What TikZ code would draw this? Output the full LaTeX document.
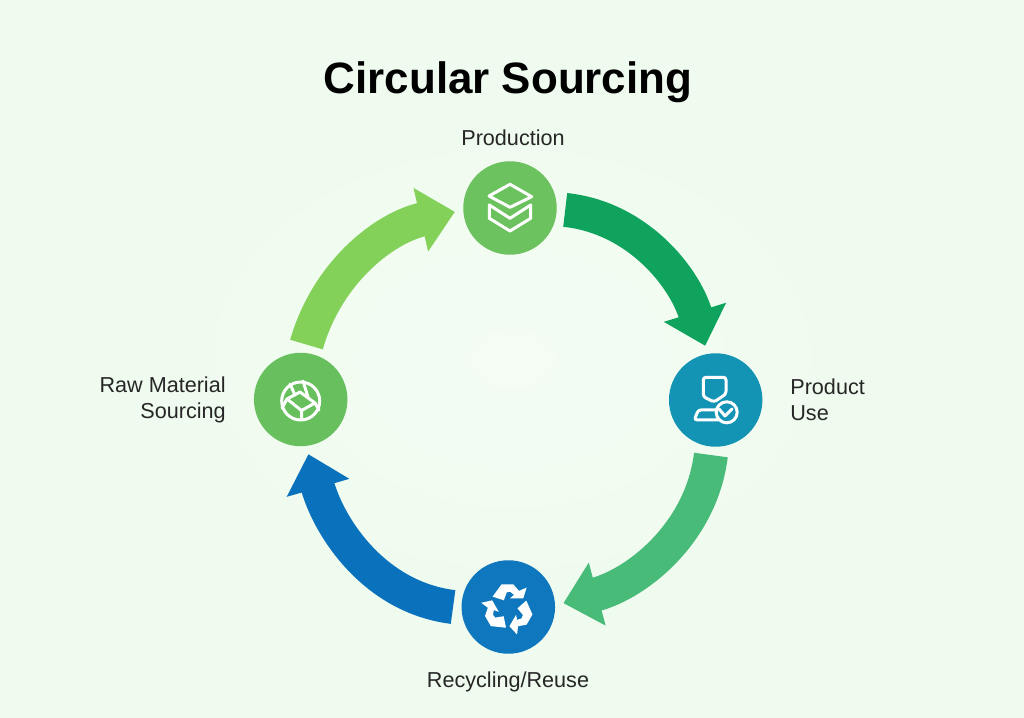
\documentclass[tikz,border=0pt]{standalone}
\usepackage{fontspec}
\setmainfont{Liberation Sans}
\usetikzlibrary{arrows.meta}
\definecolor{bgout}{HTML}{EEFBEE}
\definecolor{bgin}{HTML}{F4FCF3}
\definecolor{cprod}{HTML}{6CC25E}
\definecolor{cuse}{HTML}{1394B5}
\definecolor{crec}{HTML}{0F77BD}
\definecolor{craw}{HTML}{67C05D}
\definecolor{aone}{HTML}{84D15A}
\definecolor{atwo}{HTML}{10A35E}
\definecolor{athree}{HTML}{48BB78}
\definecolor{afour}{HTML}{0A72BC}
\begin{document}
\begin{tikzpicture}[x=0.02cm, y=0.02cm,
	main/.style = {circle, inner sep=0pt, minimum size=1.87cm, outer sep=0.17cm},
	lab/.style = {font=\fontsize{12.3pt}{14.8pt}\selectfont, text=black!85, inner sep=0pt},
	band/.style = {line width=0.68cm, -{Triangle[length=0.7cm, width=1.26cm]}},
	icon/.style = {draw=white, line width=0.06cm, line join=round, line cap=round}]
	\useasboundingbox (0,0) rectangle (1024,717);
	\shade[inner color=bgin, outer color=bgout] (0,0) rectangle (1024,717);
	
	\node[inner sep=0pt, font=\fontsize{25pt}{30pt}\selectfont\bfseries] (title) at (508,635) {Circular Sourcing};
	
	\node[main, fill=cprod] (prod) at (510,509) {};
	\node[main, fill=cuse] (use) at (715.7,317) {};
	\node[main, fill=crec] (rec) at (508.3,110) {};
	\node[main, fill=craw] (raw) at (300.7,317.5) {};
	
	\node[lab] (prodlab) at (513,579) {Production};
	\node[lab, align=left, anchor=west] (uselab) at (790,317) {Product\\Use};
	\node[lab] (reclab) at (508,35) {Recycling/Reuse};
	\node[lab, align=right, anchor=east] (rawlab) at (226,317) {Raw Material\\Sourcing};
	
	\draw[band, aone] (raw.84) to[out=74, in=193, looseness=0.95] (prod.184);
	\draw[band, atwo] (prod.-2) to[out=-6, in=107, looseness=0.95] (use.101);
	\draw[band, athree] (use.-95) to[out=-97, in=15, looseness=0.95] (rec.4);
	\draw[band, afour] (rec.180) to[out=173, in=-74, looseness=0.95] (raw.-82);
	
	% icons, in picture coordinates
	\begin{scope}[shift={(0,717)}, yscale=-1]
		\draw[icon] (510,184.3) -- (531.7,196.7) -- (510,207.3) -- (489,196) -- cycle;
		\draw[icon] (489.3,205) -- (489.3,218.3) -- (510,231) -- (530.7,218.3) -- (530.7,205) -- (510,218.3) -- cycle;
		
		\draw[icon, rounded corners=1.5pt] (703.3,377.3) -- (726,377.3) -- (726,394) -- (714,402) -- (703.3,396.7) -- cycle;
		\draw[icon, rounded corners=1.5pt] (716,410) -- (698.3,410) -- (694.3,420) -- (718,420);
		\draw[icon, fill=cuse] (726.7,412.3) circle (10.5);
		\draw[icon] (719,409) -- (725,416) -- (732,409);
		
		\draw[icon] (300.7,401) circle (19);
		\draw[icon] (287,399) -- (300,392) -- (315,403) -- (301.5,410.5) -- cycle;
		\draw[icon] (301.5,410.5) -- (301.5,419) (287,399) -- (282,408) (315,403) -- (319,410);
		\draw[icon] (290,384) -- (295,395) (303,381) -- (308,397);
		
		\begin{scope}[shift={(508.3,608.3)}]
			\foreach \r in {0,120,240}
				\fill[white, rotate=\r] (-15.7,-11.7) -- (-6.7,-24) -- (5,-24) -- (10.7,-17.4) -- (18.3,-20.7) -- (15,-10) -- (1.7,-10) -- (5.7,-13.4) -- (2,-16.5) -- (-1.5,-16) -- (-4.5,-8) -- cycle;
		\end{scope}
	\end{scope}
\end{tikzpicture}
\end{document}
